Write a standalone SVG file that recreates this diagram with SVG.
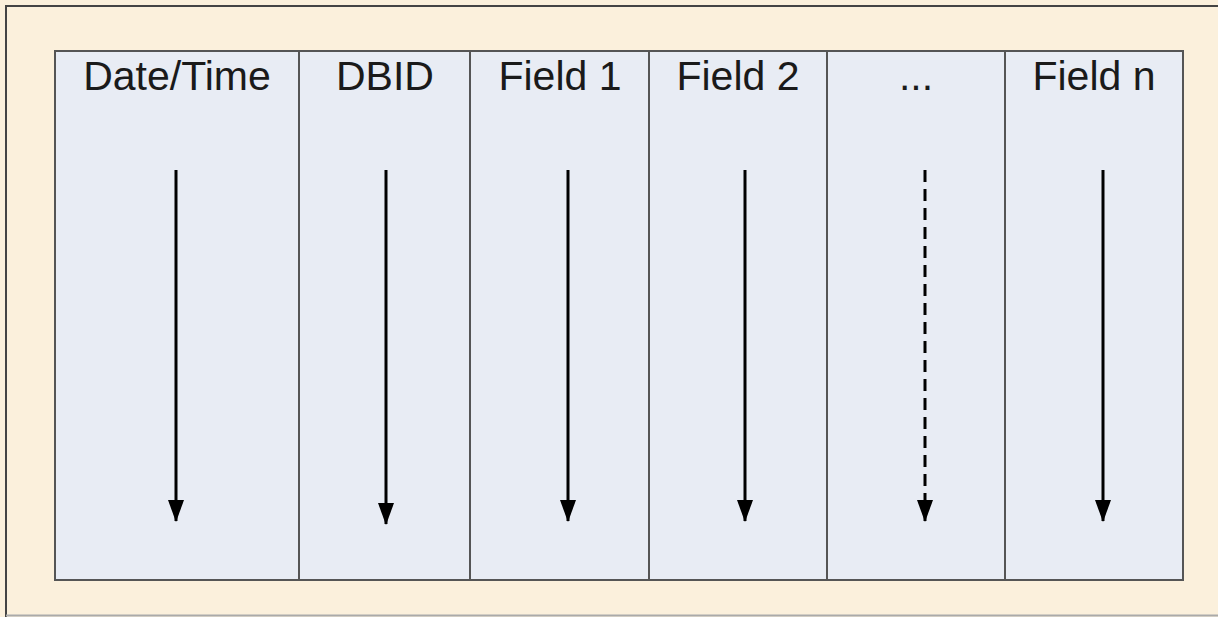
<svg xmlns="http://www.w3.org/2000/svg" width="1218" height="617" viewBox="0 0 1218 617">
<style>
.col{fill:#e8ecf4;stroke:#555;stroke-width:2}
.lbl{font-family:"Liberation Sans",Arial,sans-serif;font-size:41px;fill:#1a1a1a;text-anchor:middle}
.arr{stroke:#000;stroke-width:3;fill:none;marker-end:url(#ah)}
.dash{stroke-dasharray:12 7}
</style>
<defs>
<marker id="ah" markerUnits="userSpaceOnUse" markerWidth="22" markerHeight="16" refX="21" refY="8" orient="auto" viewBox="0 0 22 16">
<path d="M0,0 L22,8 L0,16 Z" fill="#000"/>
</marker>
</defs>
<rect x="0" y="0" width="1218" height="617" fill="#fbf0dc"/>
<path d="M6,617 L6,6 L1218,6" fill="none" stroke="#444" stroke-width="2"/>
<line x1="6" y1="615.5" x2="1218" y2="615.5" stroke="#aaa" stroke-width="2"/>
<g id="col-datetime"><rect class="col" x="55" y="51" width="244" height="529"/><text class="lbl" x="177" y="90">Date/Time</text></g>
<g id="col-dbid"><rect class="col" x="299" y="51" width="171" height="529"/><text class="lbl" x="385" y="90">DBID</text></g>
<g id="col-field1"><rect class="col" x="470" y="51" width="179" height="529"/><text class="lbl" x="560" y="90">Field 1</text></g>
<g id="col-field2"><rect class="col" x="649" y="51" width="178" height="529"/><text class="lbl" x="738" y="90">Field 2</text></g>
<g id="col-dots"><rect class="col" x="827" y="51" width="178" height="529"/><text class="lbl" x="916" y="90">...</text></g>
<g id="col-fieldn"><rect class="col" x="1005" y="51" width="178" height="529"/><text class="lbl" x="1094" y="90">Field n</text></g>
<g id="connectors">
<line class="arr" x1="176" y1="170" x2="176" y2="521"/>
<line class="arr" x1="386" y1="170" x2="386" y2="524"/>
<line class="arr" x1="568" y1="170" x2="568" y2="521"/>
<line class="arr" x1="745" y1="170" x2="745" y2="521"/>
<line class="arr dash" x1="925" y1="170" x2="925" y2="521"/>
<line class="arr" x1="1103" y1="170" x2="1103" y2="521"/>
</g>
</svg>
